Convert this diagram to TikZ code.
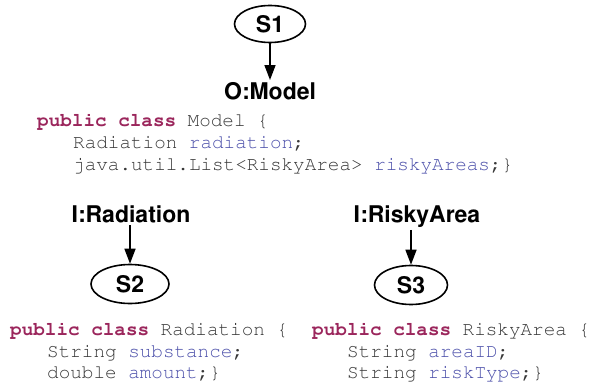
\documentclass[tikz,border=0pt]{standalone}
\usepackage[T1]{fontenc}
\usetikzlibrary{shapes.geometric,arrows.meta}
\definecolor{kw}{RGB}{155,38,92}
\definecolor{var}{RGB}{76,80,170}
\definecolor{txt}{RGB}{55,55,55}
\newcommand\codefont{\fontencoding{T1}\fontfamily{pcr}\fontsize{19.3pt}{22pt}\selectfont}
\newcommand\labfont{\fontencoding{T1}\fontfamily{phv}\fontseries{b}\fontsize{23pt}{26pt}\selectfont}
\newcommand\kwd[1]{\textcolor{kw}{\bfseries #1}}
\newcommand\vr[1]{\textcolor{var}{#1}}
\begin{document}
\begin{tikzpicture}[x=1pt,y=1pt,
  state/.style={ellipse,draw,line width=1.6pt,inner sep=0pt,font=\labfont},
  lab/.style={font=\labfont,inner xsep=0pt,inner ysep=3pt},
  code/.style={font=\codefont,text=txt,anchor=base west,inner sep=0pt},
  conn/.style={line width=1.5pt,-{Triangle[length=15pt,width=11pt]}}]
\useasboundingbox (0,0) rectangle (589,-385);
% top
\node[state,minimum width=71pt,minimum height=37pt] (s1) at (270,-24) {S1};
\node[lab,anchor=base] (om) at (270,-100) {O:Model};
\draw[conn] (s1) -- (om);
\node[code] (m1) at (37,-127) {\kwd{public class} Model \{};
\node[code] (m2) at (73,-149) {Radiation \vr{radiation};};
\node[code] (m3) at (73,-171) {java.util.List<RiskyArea> \vr{riskyAreas};\}};
% left
\node[lab,anchor=base] (ir) at (131,-222) {I:Radiation};
\node[state,minimum width=78pt,minimum height=39pt] (s2) at (130,-284) {S2};
\draw[conn] (s2.north |- ir.south) -- (s2.north);
\node[code] (r1) at (10,-335) {\kwd{public class} Radiation \{};
\node[code] (r2) at (47,-357) {String \vr{substance};};
\node[code] (r3) at (47,-378) {double \vr{amount};\}};
% right
\node[lab,anchor=base] (ia) at (417,-222) {I:RiskyArea};
\node[state,minimum width=73pt,minimum height=39pt] (s3) at (411,-285) {S3};
\draw[conn] (s3.north |- ia.south) -- (s3.north);
\node[code] (a1) at (312,-335) {\kwd{public class} RiskyArea \{};
\node[code] (a2) at (347,-357) {String \vr{areaID};};
\node[code] (a3) at (347,-378) {String \vr{riskType};\}};
\end{tikzpicture}
\end{document}
